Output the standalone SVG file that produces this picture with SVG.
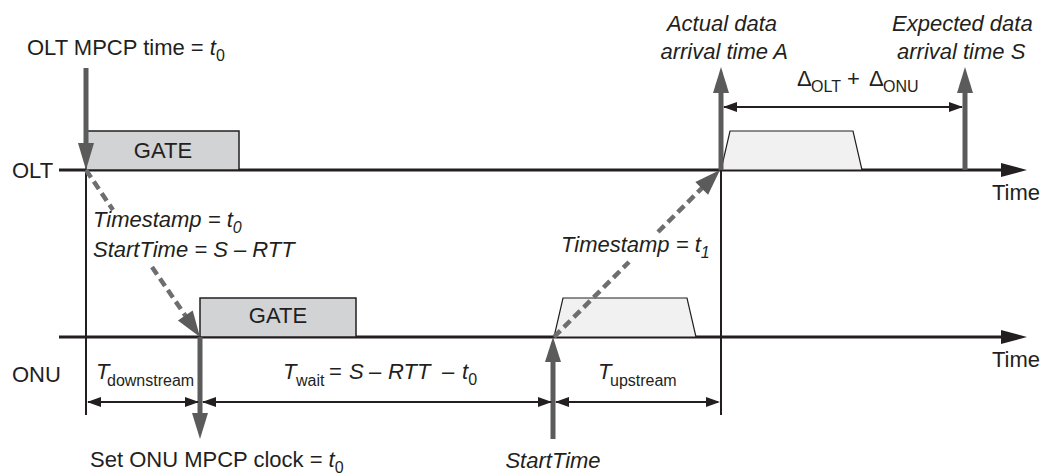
<svg xmlns="http://www.w3.org/2000/svg" width="1046" height="475" viewBox="0 0 1046 475">
<style>
text{font-family:"Liberation Sans",Arial,Helvetica,sans-serif;font-size:22px;fill:#231f20}
.i{font-style:italic}
.s{font-size:16px}
.axis{stroke:#231f20;stroke-width:3;fill:none}
.thin{stroke:#231f20;stroke-width:2;fill:none}
.gray{stroke:#5b5b5c;stroke-width:5;fill:none}
.grayh{fill:#5b5b5c}
.dash{stroke:#6d6e70;stroke-width:4.5;stroke-dasharray:9 5;fill:none}
.dim{stroke:#231f20;stroke-width:2;fill:none}
.dh{fill:#231f20}
.gate{fill:#d1d3d4;stroke:#231f20;stroke-width:1.5}
.data{fill:#f1f1f2;stroke:#231f20;stroke-width:1.2}
</style>
<g id="olt-axis">
<line class="axis" x1="59" y1="170" x2="1005" y2="170"/>
<polygon class="dh" points="1027,170 1001,163 1001,177"/>
<text x="12" y="178">OLT</text>
<text x="992" y="200">Time</text>
</g>
<g id="onu-axis">
<line class="axis" x1="59" y1="337" x2="1005" y2="337"/>
<polygon class="dh" points="1027,337 1001,330 1001,344"/>
<text x="12" y="382">ONU</text>
<text x="992" y="367">Time</text>
</g>
<g id="olt-gate">
<rect class="gate" x="86" y="131" width="153" height="39"/>
<text x="163" y="158" text-anchor="middle">GATE</text>
</g>
<g id="onu-gate">
<rect class="gate" x="200" y="298" width="156" height="39"/>
<text x="278" y="323" text-anchor="middle">GATE</text>
</g>
<g id="onu-data">
<polygon class="data" points="554,337 563,298 687,298 696,337"/>
</g>
<g id="olt-data">
<polygon class="data" points="721,170 730,131 853,131 862,170"/>
</g>
<g id="connectors">
<line class="thin" x1="86" y1="170" x2="86" y2="415"/>
<line class="thin" x1="721" y1="170" x2="721" y2="415"/>
<line class="gray" x1="86" y1="68" x2="86" y2="146"/>
<polygon class="grayh" points="86,170 78,143 94,143"/>
<line class="gray" x1="200" y1="337" x2="200" y2="415"/>
<polygon class="grayh" points="200,439 192,413 208,413"/>
<line class="gray" x1="553" y1="439" x2="553" y2="360"/>
<polygon class="grayh" points="553,337 545,362 561,362"/>
<line class="gray" x1="721" y1="170" x2="721" y2="90"/>
<polygon class="grayh" points="721,67 713,93 729,93"/>
<line class="gray" x1="965" y1="170" x2="965" y2="90"/>
<polygon class="grayh" points="965,67 957,93 973,93"/>
<line class="dash" x1="86" y1="170" x2="113" y2="210"/>
<line class="dash" x1="152" y1="267" x2="187" y2="318"/>
<polygon class="grayh" points="200,337 177.9,320.6 192.7,310.4"/>
<line class="dash" x1="554" y1="337" x2="629" y2="262"/>
<line class="dash" x1="658" y1="232" x2="704" y2="186"/>
<polygon class="grayh" points="720,170 708.1,194.7 695.3,182.1"/>
<line class="dim" x1="88" y1="402" x2="198" y2="402"/>
<polygon class="dh" points="87,402 101,397 101,407"/>
<polygon class="dh" points="199,402 185,397 185,407"/>
<line class="dim" x1="203" y1="402" x2="551" y2="402"/>
<polygon class="dh" points="202,402 216,397 216,407"/>
<polygon class="dh" points="552,402 538,397 538,407"/>
<line class="dim" x1="556" y1="402" x2="718" y2="402"/>
<polygon class="dh" points="555,402 569,397 569,407"/>
<polygon class="dh" points="720,402 706,397 706,407"/>
<line class="dim" x1="724" y1="107" x2="962" y2="107"/>
<polygon class="dh" points="723,107 737,102 737,112"/>
<polygon class="dh" points="963,107 949,102 949,112"/>
</g>
<g id="labels">
<text x="27" y="55">OLT MPCP time = <tspan class="i">t</tspan><tspan class="s" dy="6">0</tspan></text>
<text class="i" x="93" y="227">Timestamp = t<tspan class="s" dy="6">0</tspan></text>
<text class="i" x="93" y="257">StartTime = S – RTT</text>
<text class="i" x="561" y="252">Timestamp = t<tspan class="s" dy="6">1</tspan></text>
<text x="96" y="379"><tspan class="i">T</tspan><tspan class="s" x="107" dy="7">downstream</tspan></text>
<text x="283" y="379"><tspan class="i">T</tspan><tspan class="s" x="296" dy="7">wait</tspan><tspan x="329" dy="-7">=</tspan><tspan class="i" x="349">S</tspan><tspan x="369">–</tspan><tspan class="i" x="388">RTT</tspan><tspan x="442">–</tspan><tspan class="i" x="462">t</tspan><tspan class="s" dy="6">0</tspan></text>
<text x="598" y="379"><tspan class="i">T</tspan><tspan class="s" x="610" dy="7">upstream</tspan></text>
<text class="i" x="553" y="468" text-anchor="middle">StartTime</text>
<text x="90" y="467">Set ONU MPCP clock = <tspan class="i">t</tspan><tspan class="s" dy="6">0</tspan></text>
<text class="i" x="777" y="31" text-anchor="end">Actual data</text>
<text class="i" x="788" y="59" text-anchor="end">arrival time A</text>
<text class="i" x="892" y="31">Expected data</text>
<text class="i" x="897" y="59">arrival time S</text>
<text x="797" y="86">Δ<tspan class="s" x="811" dy="6">OLT</tspan><tspan x="847" dy="-6">+</tspan><tspan x="869">Δ</tspan><tspan class="s" x="883" dy="6">ONU</tspan></text>
</g>
</svg>
